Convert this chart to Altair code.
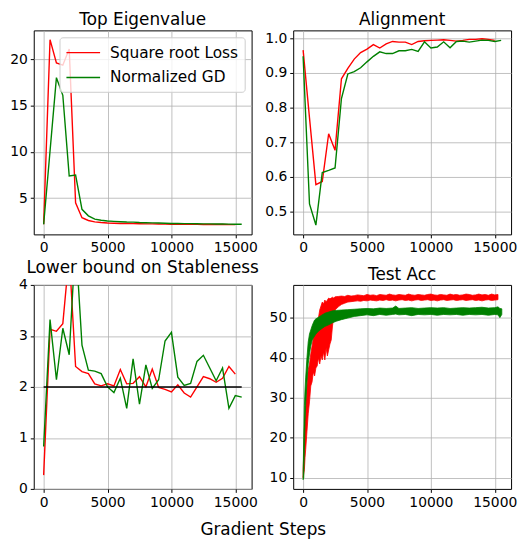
import altair as alt
import pandas as pd

# ---------------- data ----------------
SERIES = ["Square root Loss", "Normalized GD"]
COLORS = ["#ff0000", "#008000"]

steps_red = [0, 500, 1000, 1500, 2000, 2500, 3000, 3500, 4000, 4500, 5000, 5500,
             6000, 6500, 7000, 7500, 8000, 8500, 9000, 9500, 10000, 10500, 11000,
             11500, 12000, 12500, 13000, 13500, 14000, 14500, 15000]
steps_green = [0, 500, 1000, 1500, 2000, 2500, 3000, 3500, 4000, 4500, 5000, 5500,
               6000, 6500, 7000, 7500, 8000, 8500, 9000, 9500, 10000, 10500, 11000,
               11500, 12000, 12500, 13000, 13500, 14000, 14500, 15000, 15500]

eig_red = [2.2, 22.1, 19.6, 19.35, 21.1, 4.5, 2.9, 2.6, 2.45, 2.38, 2.33, 2.3,
           2.28, 2.27, 2.26, 2.25, 2.24, 2.23, 2.22, 2.21, 2.2, 2.2, 2.19, 2.18,
           2.18, 2.17, 2.17, 2.16, 2.16, 2.15, 2.15]
eig_green = [2.2, 10.1, 18.0, 16.1, 7.4, 7.5, 3.8, 3.1, 2.75, 2.62, 2.55, 2.5,
             2.46, 2.43, 2.42, 2.38, 2.36, 2.34, 2.33, 2.3, 2.28, 2.27, 2.26, 2.26,
             2.25, 2.24, 2.23, 2.22, 2.22, 2.21, 2.2, 2.2]

align_red = [0.966, 0.77, 0.577, 0.586, 0.724, 0.676, 0.883, 0.913, 0.94, 0.959,
             0.969, 0.982, 0.972, 0.984, 0.991, 0.989, 0.989, 0.982, 0.991, 0.993,
             0.994, 0.995, 0.996, 0.994, 0.992, 0.994, 0.997, 0.997, 0.999, 0.997,
             0.994]
align_green = [0.948, 0.521, 0.46, 0.612, 0.618, 0.625, 0.826, 0.897, 0.904, 0.915,
               0.932, 0.948, 0.961, 0.956, 0.956, 0.964, 0.964, 0.968, 0.962, 0.99,
               0.972, 0.975, 0.99, 0.973, 0.991, 0.992, 0.989, 0.992, 0.995, 0.994,
               0.991, 0.994]

stab_red = [0.27, 3.13, 3.09, 3.24, 4.6, 2.4, 2.3, 2.26, 2.06, 2.02, 2.06, 2.02,
            2.34, 2.06, 2.07, 2.2, 2.0, 2.35, 1.99, 1.95, 1.9, 2.04, 1.88, 1.8,
            2.0, 2.2, 2.16, 2.09, 2.17, 2.4, 2.25]
stab_green = [0.83, 3.32, 2.14, 3.15, 2.63, 4.9, 2.82, 2.33, 2.31, 2.26, 2.0, 1.89,
              2.17, 1.58, 2.55, 1.66, 2.43, 1.97, 2.14, 2.9, 3.07, 2.19, 2.03, 2.07,
              2.5, 2.62, 2.37, 2.12, 2.37, 1.58, 1.83, 1.8]
ref_steps = [0, 15500]
ref_values = [2, 2]

# Test accuracy: envelope (low / high) of the dense noisy curves
acc_steps_red = [0, 50, 100, 150, 200, 300, 400, 500, 600, 700, 800, 900, 1000,
                 1100, 1200, 1300, 1400, 1500, 1600, 1700, 1800, 1900, 2000, 2100,
                 2200, 2300, 2400, 2500, 2750, 3000, 3250, 3500, 3750, 4000, 4250,
                 4500, 4750, 5000, 5250, 5500, 5750, 6000, 6250, 6500, 6750, 7000,
                 7250, 7500, 7750, 8000, 8250, 8500, 8750, 9000, 9250, 9500, 9750,
                 10000, 10250, 10500, 10750, 11000, 11250, 11500, 11750, 12000,
                 12250, 12500, 12750, 13000, 13250, 13500, 13750, 14000, 14250,
                 14500, 14750, 15000, 15250]
acc_red_lo = [10.0, 11.0, 12.0, 15.0, 17.0, 21.5, 26.0, 29.0, 33.0, 34.0, 36.5,
              35.5, 37.5, 38.0, 40.0, 38.5, 40.5, 39.5, 41.5, 39.5, 42.5, 40.5,
              42.0, 43.5, 44.5, 48.0, 50.5, 52.0, 52.8, 53.4, 53.7, 54.0, 54.1,
              54.2, 54.3, 54.2, 54.4, 54.3, 54.5, 54.4, 54.3, 54.5, 54.4, 54.6,
              54.4, 54.5, 54.3, 54.5, 54.6, 54.4, 54.5, 54.3, 54.5, 54.6, 54.4,
              54.5, 54.6, 54.4, 54.5, 54.3, 54.5, 54.6, 54.4, 54.5, 54.6, 54.4,
              54.5, 54.6, 54.4, 54.5, 54.6, 54.4, 54.5, 54.3, 54.5, 54.6, 54.4,
              54.5, 54.6]
acc_red_hi = [12.0, 16.0, 22.0, 25.0, 28.0, 33.0, 37.0, 38.5, 41.0, 43.0, 45.0,
              46.0, 47.0, 49.0, 50.0, 52.0, 53.0, 54.0, 53.5, 54.5, 54.0, 54.5,
              55.0, 54.8, 55.0, 55.2, 55.0, 55.3, 55.4, 55.5, 55.4, 55.7, 55.5,
              55.6, 55.8, 55.7, 55.6, 55.9, 55.7, 55.8, 55.6, 55.9, 55.8, 55.7,
              56.0, 55.8, 55.7, 55.9, 55.8, 55.7, 56.0, 55.8, 55.7, 55.9, 55.8,
              55.7, 55.9, 56.0, 55.8, 55.7, 55.9, 55.8, 55.7, 56.0, 55.8, 55.9,
              55.7, 55.8, 56.0, 55.9, 55.7, 55.8, 56.0, 55.8, 55.9, 55.7, 56.0,
              55.8, 55.9]

acc_steps_green = [0, 50, 100, 150, 200, 300, 400, 500, 600, 700, 800, 900, 1000,
                   1200, 1400, 1700, 2000, 2300, 2600, 3000, 3500, 4000, 4500, 5000,
                   5500, 6000, 6500, 7000, 7250, 7500, 8000, 8500, 9000, 9500,
                   10000, 10500, 11000, 11500, 12000, 12500, 13000, 13500, 14000,
                   14500, 15000, 15250, 15400, 15550]
acc_green_lo = [9.5, 10.0, 17.0, 24.0, 28.0, 34.0, 38.5, 41.0, 43.0, 44.3, 45.0,
                45.5, 46.0, 46.7, 47.2, 47.9, 48.3, 48.8, 49.2, 49.6, 50.0, 50.4,
                50.6, 50.8, 50.6, 50.9, 50.7, 50.9, 51.0, 50.8, 50.9, 50.6, 50.9,
                50.8, 50.9, 50.7, 50.9, 50.8, 50.9, 50.7, 50.9, 50.8, 50.9, 50.7,
                50.9, 50.8, 50.1, 50.9]
acc_green_hi = [10.5, 20.0, 28.0, 32.0, 35.0, 40.0, 44.0, 46.0, 47.0, 48.0, 48.8,
                49.5, 49.8, 50.2, 50.6, 51.2, 51.5, 51.8, 51.9, 52.0, 52.1, 52.2,
                52.3, 52.4, 52.3, 52.5, 52.4, 52.5, 53.0, 52.4, 52.5, 52.6, 52.4,
                52.5, 52.6, 52.5, 52.6, 52.4, 52.5, 52.6, 52.5, 52.6, 52.7, 52.5,
                52.6, 52.8, 52.4, 52.3]


def long_df(sr, vr, sg, vg):
    return pd.DataFrame({
        "step": list(sr) + list(sg),
        "value": list(vr) + list(vg),
        "series": [SERIES[0]] * len(sr) + [SERIES[1]] * len(sg),
    })


eig_df = long_df(steps_red, eig_red, steps_green, eig_green)
align_df = long_df(steps_red, align_red, steps_green, align_green)
stab_df = long_df(steps_red, stab_red, steps_green, stab_green)
ref_df = pd.DataFrame({"step": ref_steps, "value": ref_values})
acc_df = pd.DataFrame({
    "step": acc_steps_red + acc_steps_green,
    "lo": acc_red_lo + acc_green_lo,
    "hi": acc_red_hi + acc_green_hi,
    "series": [SERIES[0]] * len(acc_steps_red) + [SERIES[1]] * len(acc_steps_green),
})

# ---------------- styling ----------------
FONT = "DejaVu Sans"
W, H = 220, 206
XDOM = [-775, 16275]
LW = 1.4


def axis(values, fmt):
    return alt.Axis(values=values, format=fmt, title=None, labelFontSize=14,
                    labelFont=FONT, labelColor="black", tickSize=3.5,
                    tickColor="black", labelPadding=3, grid=True,
                    gridColor="#b0b0b0", gridWidth=0.8, domain=False,
                    labelFlush=False, labelOverlap=False, labelBound=False)


xenc = alt.X("step:Q", scale=alt.Scale(domain=XDOM, nice=False, zero=False),
             axis=axis([0, 5000, 10000, 15000], "d"))


def title(t):
    return alt.TitleParams(t, fontSize=17, fontWeight="normal", font=FONT,
                           color="black", offset=1, frame="group", anchor="middle")


def color(legend=None):
    return alt.Color("series:N", scale=alt.Scale(domain=SERIES, range=COLORS),
                     sort=SERIES, legend=legend)


legend = alt.Legend(title=None, orient="top-right", offset=7, labelFontSize=15.5,
                    labelFont=FONT, labelColor="black",
                    symbolType="M-1,0H3", symbolStrokeWidth=1.4, symbolSize=289,
                    labelOffset=26, fillColor="rgba(255,255,255,0.8)",
                    strokeColor="#cccccc", padding=6, cornerRadius=3,
                    rowPadding=7, labelLimit=300)

eig = alt.Chart(eig_df).mark_line(strokeWidth=LW).encode(
    x=xenc,
    y=alt.Y("value:Q", scale=alt.Scale(domain=[1.1, 23.1], nice=False, zero=False),
            axis=axis([5, 10, 15, 20], "d")),
    color=color(legend),
).properties(width=W, height=H, title=title("Top Eigenvalue"))

align = alt.Chart(align_df).mark_line(strokeWidth=LW).encode(
    x=xenc,
    y=alt.Y("value:Q", scale=alt.Scale(domain=[0.433, 1.023], nice=False, zero=False),
            axis=axis([0.5, 0.6, 0.7, 0.8, 0.9, 1.0], ".1f")),
    color=color(),
).properties(width=W, height=H, title=title("Alignment"))

stab_lines = alt.Chart(stab_df).mark_line(strokeWidth=LW, clip=True).encode(
    x=xenc,
    y=alt.Y("value:Q", scale=alt.Scale(domain=[0, 4], nice=False, zero=False),
            axis=axis([0, 1, 2, 3, 4], "d")),
    color=color(),
)
stab_ref = alt.Chart(ref_df).mark_line(color="black", strokeWidth=1.5).encode(
    x="step:Q", y="value:Q")
stab = alt.layer(stab_lines, stab_ref).properties(
    width=W, height=H, title=title("Lower bound on Stableness"))

acc = alt.Chart(acc_df).mark_area(opacity=1, strokeWidth=0.8).encode(
    x=xenc,
    y=alt.Y("hi:Q", scale=alt.Scale(domain=[7.2, 58.3], nice=False, zero=False),
            axis=axis([10, 20, 30, 40, 50], "d")),
    y2="lo:Q",
    color=color(),
    stroke=alt.Stroke("series:N", scale=alt.Scale(domain=SERIES, range=COLORS), legend=None),
).properties(width=W, height=H, title=title("Test Acc"))

chart = alt.concat(
    eig, align, stab, acc, columns=2,
    spacing={"row": 51, "column": 42}, bounds="flush",
).resolve_scale(color="independent", stroke="independent").resolve_legend(
    color="independent"
).properties(
    padding={"left": 1, "top": 0, "right": 0, "bottom": 0},
    title=alt.TitleParams("Gradient Steps", orient="bottom", anchor="middle",
                          fontSize=17, fontWeight="normal", font=FONT,
                          color="black", offset=13),
).configure_view(stroke="black", strokeWidth=1)

chart.save("out.html", embed_options={"renderer": "svg", "actions": False})
